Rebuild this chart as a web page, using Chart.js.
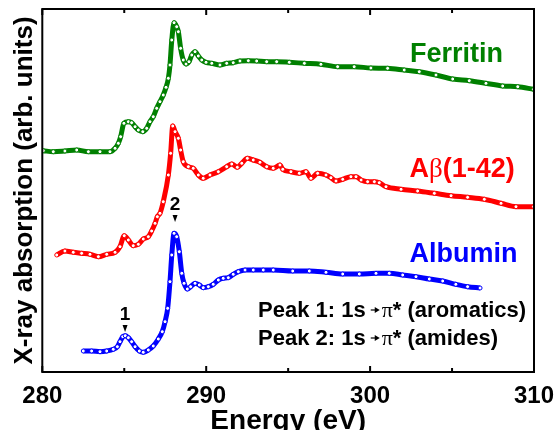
<!DOCTYPE html>
<html>
<head>
<meta charset="utf-8">
<script src="https://cdn.jsdelivr.net/npm/chart.js@4/dist/chart.umd.min.js"></script>
<style>
  html, body { margin: 0; padding: 0; background: #fff; }
  #wrap { position: relative; width: 556px; height: 430px; }
</style>
</head>
<body>
<div id="wrap"><canvas id="chart-xas" width="556" height="430"></canvas></div>
<script>
(function () {
  'use strict';

  // energies (eV) and absorption (arb. units, offset per sample)
  var ferritinE = [280.06, 280.67, 281.38, 282.10, 282.81, 283.52, 284.13, 284.44, 284.64, 284.78, 284.98, 285.25, 285.45, 285.66, 285.86, 286.13, 286.37, 286.57, 286.77, 286.98, 287.18, 287.38, 287.55, 287.69, 287.79, 287.90, 288.04, 288.20, 288.30, 288.44, 288.60, 288.77, 288.95, 289.12, 289.32, 289.52, 289.73, 289.99, 290.34, 290.84, 291.25, 291.65, 292.06, 292.57, 293.08, 293.69, 294.30, 295.07, 295.99, 297.00, 298.02, 299.03, 300.05, 301.07, 302.08, 303.00, 304.02, 305.04, 306.05, 307.07, 308.09, 309.01, 309.98];
  var ferritinY = [2.213, 2.203, 2.21, 2.22, 2.203, 2.203, 2.203, 2.237, 2.287, 2.353, 2.487, 2.503, 2.493, 2.453, 2.42, 2.403, 2.437, 2.503, 2.553, 2.637, 2.703, 2.77, 2.847, 2.937, 3.07, 3.32, 3.493, 3.453, 3.403, 3.237, 3.12, 3.08, 3.103, 3.17, 3.203, 3.16, 3.12, 3.097, 3.087, 3.07, 3.087, 3.093, 3.11, 3.113, 3.11, 3.103, 3.103, 3.097, 3.087, 3.077, 3.053, 3.053, 3.04, 3.037, 3.02, 3.003, 2.97, 2.93, 2.913, 2.887, 2.86, 2.853, 2.827];

  var abetaE = [280.88, 281.38, 281.89, 282.40, 282.91, 283.42, 283.93, 284.44, 284.74, 285.00, 285.25, 285.55, 285.86, 286.16, 286.47, 286.67, 286.88, 287.02, 287.18, 287.38, 287.69, 287.83, 287.96, 288.10, 288.30, 288.44, 288.60, 288.91, 289.21, 289.52, 289.82, 290.23, 290.74, 291.25, 291.56, 291.90, 292.17, 292.51, 292.87, 293.28, 293.69, 294.09, 294.50, 294.67, 295.17, 295.68, 296.09, 296.39, 296.80, 297.31, 297.61, 297.92, 298.33, 298.83, 299.14, 299.45, 299.85, 300.26, 300.56, 300.97, 301.89, 302.90, 303.92, 304.94, 305.95, 306.97, 307.99, 308.90, 309.98];
  var abetaY = [1.17, 1.21, 1.197, 1.187, 1.177, 1.153, 1.177, 1.197, 1.253, 1.363, 1.32, 1.263, 1.277, 1.33, 1.353, 1.41, 1.487, 1.553, 1.587, 1.703, 1.97, 2.187, 2.46, 2.403, 2.337, 2.22, 2.103, 2.053, 2.037, 1.97, 1.937, 1.97, 2.003, 2.053, 2.08, 2.047, 2.087, 2.137, 2.12, 2.097, 2.053, 2.037, 2.07, 2.027, 2.003, 1.987, 2.003, 1.937, 1.987, 1.97, 1.943, 1.91, 1.927, 1.953, 1.953, 1.92, 1.903, 1.903, 1.893, 1.853, 1.827, 1.81, 1.787, 1.763, 1.747, 1.727, 1.687, 1.653, 1.653];

  var albuminE = [282.50, 283.01, 283.52, 283.93, 284.33, 284.58, 284.74, 284.91, 285.06, 285.25, 285.45, 285.66, 285.92, 286.16, 286.47, 286.77, 287.08, 287.32, 287.49, 287.65, 287.79, 287.90, 288.04, 288.20, 288.36, 288.51, 288.65, 288.85, 289.05, 289.32, 289.58, 289.82, 290.13, 290.43, 290.74, 291.04, 291.35, 291.65, 291.96, 292.37, 292.87, 293.48, 294.09, 295.28, 296.29, 297.31, 298.33, 299.34, 300.36, 301.17, 301.99, 302.80, 303.61, 304.43, 305.23, 305.95, 306.71];
  var albuminY = [0.21, 0.21, 0.203, 0.21, 0.227, 0.253, 0.303, 0.353, 0.363, 0.343, 0.303, 0.253, 0.21, 0.197, 0.22, 0.26, 0.33, 0.403, 0.503, 0.637, 0.903, 1.17, 1.387, 1.353, 1.203, 0.987, 0.887, 0.83, 0.853, 0.887, 0.87, 0.843, 0.853, 0.877, 0.92, 0.937, 0.943, 0.977, 1.003, 1.02, 1.02, 1.02, 1.02, 1.01, 1.01, 0.997, 0.98, 0.98, 0.987, 0.987, 0.97, 0.953, 0.93, 0.91, 0.877, 0.853, 0.84];

  var majorTicks = [280, 290, 300, 310];
  var minorTicks = [285, 295, 305];

  var sampleNames = ['Ferritin', 'A\u03b2(1-42)', 'Albumin'];
  var sampleColors = ['#008000', '#ff0000', '#0000ff'];
  var nameE = [305.27, 305.61, 305.70];
  var nameY = [3.10, 1.95, 1.10];

  var peakLabels = ['1', '2'];
  var peakE = [285.05, 288.10];
  var peakTipY = [0.40, 1.50];

  var noteE = 293.16;
  var noteY = [0.55, 0.27];
  var noteHead = ['Peak 1: 1s ', 'Peak 2: 1s '];
  var noteTail = ['* (aromatics)', '* (amides)'];

  var SANS = '"Liberation Sans", Arial, Helvetica, sans-serif';
  var SERIF = '"Liberation Serif", "Times New Roman", serif';

  function pts(xs, ys) {
    return xs.map(function (x, i) {
      return { x: x, y: ys[i] };
    });
  }

  function series(label, xs, ys, color) {
    return {
      label: label,
      data: pts(xs, ys),
      borderColor: color,
      backgroundColor: color,
      borderWidth: 5,
      cubicInterpolationMode: 'monotone',
      pointRadius: 2,
      pointBorderWidth: 1,
      pointBackgroundColor: '#ffffff',
      pointBorderColor: color,
      pointHoverRadius: 2,
    };
  }

  var decor = {
    id: 'decor',
    afterDraw: function (chart) {
      var ctx = chart.ctx;
      var a = chart.chartArea;
      var xs = chart.scales.x;
      var ys = chart.scales.y;
      ctx.save();

      // frame + inward ticks
      ctx.strokeStyle = '#000';
      ctx.lineWidth = 2;
      ctx.strokeRect(a.left, a.top, a.right - a.left, a.bottom - a.top);
      function tick(v, len) {
        var px = xs.getPixelForValue(v);
        ctx.beginPath();
        ctx.moveTo(px, a.bottom);
        ctx.lineTo(px, a.bottom - len);
        ctx.moveTo(px, a.top);
        ctx.lineTo(px, a.top + len);
        ctx.stroke();
      }
      majorTicks.forEach(function (v) { tick(v, 6); });
      minorTicks.forEach(function (v) { tick(v, 4); });

      // sample names
      ctx.textBaseline = 'alphabetic';
      ctx.textAlign = 'left';
      sampleNames.forEach(function (name, i) {
        var runs;
        if (name.indexOf('\u03b2') >= 0) {
          runs = [
            { t: 'A', f: 'bold 27px ' + SANS },
            { t: '\u03b2', f: '27px ' + SERIF },
            { t: '(1-42)', f: 'bold 27px ' + SANS },
          ];
        } else {
          runs = [{ t: name, f: 'bold 27px ' + SANS }];
        }
        var w = 0;
        runs.forEach(function (r) { ctx.font = r.f; w += ctx.measureText(r.t).width; });
        var x = xs.getPixelForValue(nameE[i]) - w / 2;
        var y = ys.getPixelForValue(nameY[i]);
        ctx.fillStyle = sampleColors[i];
        runs.forEach(function (r) {
          ctx.font = r.f;
          ctx.fillText(r.t, x, y);
          x += ctx.measureText(r.t).width;
        });
      });

      // peak markers
      ctx.fillStyle = '#000';
      peakLabels.forEach(function (lab, i) {
        var px = xs.getPixelForValue(peakE[i]);
        var tip = ys.getPixelForValue(peakTipY[i]);
        ctx.beginPath();
        ctx.moveTo(px - 2.5, tip - 7);
        ctx.lineTo(px + 2.5, tip - 7);
        ctx.lineTo(px, tip);
        ctx.closePath();
        ctx.fill();
        ctx.font = 'bold 19px ' + SANS;
        ctx.textAlign = 'center';
        ctx.fillText(lab, px, tip - 12);
      });

      // notes
      ctx.textAlign = 'left';
      noteHead.forEach(function (head, i) {
        var x = xs.getPixelForValue(noteE);
        var y = ys.getPixelForValue(noteY[i]);
        ctx.font = 'bold 22px ' + SANS;
        ctx.fillText(head, x, y);
        x += ctx.measureText(head).width - 1;
        // small arrow
        var my = y - 7;
        ctx.lineWidth = 1.2;
        ctx.beginPath();
        ctx.moveTo(x, my);
        ctx.lineTo(x + 5, my);
        ctx.stroke();
        ctx.beginPath();
        ctx.moveTo(x + 4, my - 3);
        ctx.lineTo(x + 9, my);
        ctx.lineTo(x + 4, my + 3);
        ctx.closePath();
        ctx.fill();
        x += 11;
        ctx.font = '22px ' + SERIF;
        ctx.fillText('\u03c0', x, y);
        x += ctx.measureText('\u03c0').width;
        ctx.font = 'bold 22px ' + SANS;
        ctx.fillText(noteTail[i], x, y);
      });

      ctx.restore();
    },
  };

  new Chart(document.getElementById('chart-xas'), {
    type: 'line',
    data: {
      datasets: [
        series(sampleNames[0], ferritinE, ferritinY, sampleColors[0]),
        series(sampleNames[1], abetaE, abetaY, sampleColors[1]),
        series(sampleNames[2], albuminE, albuminY, sampleColors[2]),
      ],
    },
    options: {
      responsive: false,
      animation: false,
      devicePixelRatio: 1,
      layout: { padding: { top: 9, right: 22, bottom: 0, left: 0 } },
      plugins: { legend: { display: false }, tooltip: { enabled: false } },
      scales: {
        x: {
          type: 'linear',
          min: 280,
          max: 310,
          afterFit: function (s) {
            s.height = 58;
            s.paddingLeft = 0;
            s.paddingRight = 0;
          },
          grid: { display: false, drawTicks: false },
          border: { display: false },
          ticks: {
            stepSize: 10,
            autoSkip: false,
            maxRotation: 0,
            padding: 10,
            color: '#000',
            font: { family: SANS, size: 24, weight: 'bold' },
          },
          title: {
            display: true,
            text: 'Energy (eV)',
            color: '#000',
            font: { family: SANS, size: 28, weight: 'bold', lineHeight: 1 },
            padding: { top: 0, bottom: -5 },
          },
        },
        y: {
          type: 'linear',
          min: 0,
          max: 3.63,
          afterFit: function (s) { s.width = 42.3; },
          grid: { display: false, drawTicks: false },
          border: { display: false },
          ticks: { display: false },
          title: {
            display: true,
            text: 'X-ray absorption (arb. units)',
            color: '#000',
            font: { family: SANS, size: 26, weight: 'bold' },
            padding: { top: 9, bottom: 0 },
          },
        },
      },
    },
    plugins: [decor],
  });
})();
</script>
</body>
</html>
